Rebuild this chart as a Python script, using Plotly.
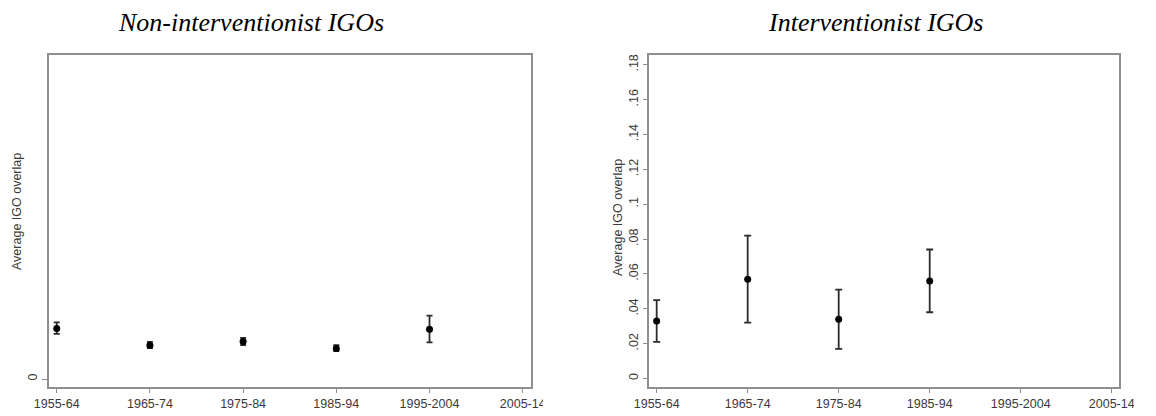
import plotly.graph_objects as go

W, H = 1156, 416

periods = ["1955-64", "1965-74", "1975-84", "1985-94", "1995-2004", "2005-14"]

# Non-interventionist IGOs: point estimate with lower / upper bounds
non_periods = ["1955-64", "1965-74", "1975-84", "1985-94", "1995-2004"]
non_mean = [0.0291, 0.0194, 0.0215, 0.0176, 0.0286]
non_low = [0.0259, 0.0178, 0.0195, 0.0161, 0.0211]
non_high = [0.0326, 0.0213, 0.0236, 0.0195, 0.0364]

# Interventionist IGOs
int_periods = ["1955-64", "1965-74", "1975-84", "1985-94"]
int_mean = [0.033, 0.057, 0.034, 0.056]
int_low = [0.021, 0.032, 0.017, 0.038]
int_high = [0.045, 0.082, 0.051, 0.074]

right_ticks = [0, 0.02, 0.04, 0.06, 0.08, 0.1, 0.12, 0.14, 0.16, 0.18]
right_ticktext = ["0", ".02", ".04", ".06", ".08", ".1", ".12", ".14", ".16", ".18"]


def px(x):
    return x / W


def py(y):
    return 1 - y / H


def ci_trace(xs, mean, low, high, xaxis, yaxis, cap):
    return go.Scatter(
        x=xs, y=mean, mode="markers",
        marker=dict(color="black", size=7, symbol="circle"),
        error_y=dict(
            type="data", symmetric=False,
            array=[h - m for h, m in zip(high, mean)],
            arrayminus=[m - l for m, l in zip(mean, low)],
            color="#2b2b2b", thickness=1.8, width=cap,
        ),
        xaxis=xaxis, yaxis=yaxis, showlegend=False, hoverinfo="skip",
    )


fig = go.Figure()
fig.add_trace(ci_trace(non_periods, non_mean, non_low, non_high, "x", "y", 3))
fig.add_trace(ci_trace(int_periods, int_mean, int_low, int_high, "x2", "y2", 3.5))

tick_font = dict(family="Liberation Sans, Arial, sans-serif", size=12.5, color="#3a3a3a")
frame = dict(showline=True, mirror=True, linecolor="#8f8f8f", linewidth=1.6,
             showgrid=False, zeroline=False, ticks="outside", ticklen=5,
             tickcolor="#8f8f8f", tickwidth=1, tickfont=tick_font,
             automargin=False)

ydom = [py(386.5), py(55)]

fig.update_layout(
    width=W, height=H,
    margin=dict(l=0, r=0, t=0, b=0, autoexpand=False),
    paper_bgcolor="white", plot_bgcolor="white",
    xaxis=dict(domain=[px(48.7), px(531)], type="category",
               categoryorder="array", categoryarray=periods,
               tickvals=periods, ticktext=periods,
               range=[-0.086, 5.089], **frame),
    yaxis=dict(domain=ydom, range=[-0.0043, 0.1862],
               tickvals=[0], ticktext=["0"], tickangle=-90, **frame),
    xaxis2=dict(domain=[px(649.3), px(1119)], type="category",
                categoryorder="array", categoryarray=periods,
                tickvals=periods, ticktext=periods,
                range=[-0.081, 5.08], anchor="y2", **frame),
    yaxis2=dict(domain=ydom, range=[-0.0046, 0.1856], anchor="x2",
                tickvals=right_ticks, ticktext=right_ticktext,
                tickangle=-90, **frame),
)

title_font = dict(family="Liberation Serif, Times New Roman, serif", size=26, color="black")
label_font = dict(family="Liberation Sans, Arial, sans-serif", size=12.5, color="#3a3a3a")

annotations = [
    dict(text="<i>Non-interventionist IGOs</i>", x=px(250.5), y=py(6),
         xanchor="center", yanchor="top", font=title_font),
    dict(text="<i>Interventionist IGOs</i>", x=px(875), y=py(6),
         xanchor="center", yanchor="top", font=title_font),
    dict(text="Average IGO overlap", x=px(17), y=py(212), textangle=-90,
         xanchor="center", yanchor="middle", font=label_font),
    dict(text="Average IGO overlap", x=px(618), y=py(218), textangle=-90,
         xanchor="center", yanchor="middle", font=label_font),
]
for a in annotations:
    a.update(xref="paper", yref="paper", showarrow=False)
fig.update_layout(annotations=annotations)

# Each panel ends short of its last tick label, trimming "2005-14"
for x0, x1 in [(543, 600), (1134, 1156)]:
    fig.add_shape(type="rect", xref="paper", yref="paper",
                  x0=px(x0), x1=px(x1), y0=0, y1=py(389),
                  fillcolor="white", line=dict(width=0), layer="above")

fig.write_html("out.html")
